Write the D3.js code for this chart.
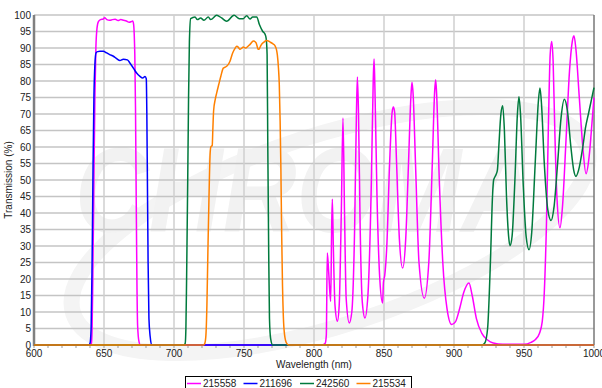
<!DOCTYPE html>
<html>
<head>
<meta charset="utf-8">
<script src="https://cdn.jsdelivr.net/npm/d3@7"></script>
<style>
  body { margin: 0; background: #fff; }
  svg { display: block; font-family: "Liberation Sans", Arial, sans-serif; }
</style>
</head>
<body>
<div id="chart"></div>
<script>
// Series data: [wavelength nm, transmission %]
const s215558 = [
  [600,0],[640,0],[641,0.5],[641.5,5],[642,20],[642.8,50],[643.5,75],[644.2,90],[645,96],[646,98],
  [647.6,98.6],[649.5,98.8],[650.5,99.2],[652,98.6],[654,98.4],[656,98.6],[658,98.7],[660,98.3],
  [662,98.6],[664,98.4],[666,98.2],[668,97.8],[669.5,98],[670.5,98.2],[671.2,97],[671.6,94],
  [672,88],[672.5,72],[673,45],[673.5,20],[674,6],[675,1],[676,0],
  [806,0],[808,0.5],[808.8,3],[809.5,27.9],[810.5,22],[811.9,13.2],[812.6,35],[813.1,44.2],[813.8,30],
  [815,12],[816.7,7.2],[818,12],[819.5,40],[820.7,68.8],[821.8,40],[823,14],[825.2,6.7],[827,10],
  [829,35],[830.3,70],[831,81.2],[831.8,70],[833,35],[834.5,13],[836.4,8.2],[838.5,15],[841,50],
  [842.3,80],[842.9,86.7],[843.5,78],[845,45],[847,20],[849,12.7],[849.6,19],[850.5,21],[852,30],
  [854,55],[855.8,70.5],[856.7,72.1],[857.6,70.5],[859,55],[861,32],[863.3,23.3],[865.5,32],
  [867.5,55],[869.3,76],[870,79.6],[870.8,76],[872.5,55],[875,25],[878.8,14.2],[882,25],[884.5,55],
  [886.2,77],[886.9,80.4],[887.6,76],[889.5,50],[892,25],[895,11],[898.3,6.2],[901,7],[904,11],
  [907,16],[910.7,18.8],[913,15],[916,8],[919.8,3.6],[924,1.5],[928,0.6],[935,0.2],[950,0.2],
  [955,0.8],[958,1.6],[961,3.5],[963,7],[964.5,16],[966,36],[967.5,68],[968.7,88],[969.8,92],
  [970.8,86],[972,65],[973.5,45],[975.7,35.5],[977.5,42],[980,62],[982.5,83],[984.5,92],[985.7,93.7],
  [987,90],[989.5,75],[992,60],[994.3,51.9],[996.5,57],[998.5,67],[1000,75]
];
const s211696 = [
  [600,0],[639,0],[640,0.5],[640.8,5],[641.5,25],[642.2,55],[642.8,75],[643.5,85],[644.3,88.5],
  [645.5,88.9],[647.1,89],[649.5,89],[651.9,88.5],[654,88],[656.7,87.5],[659,86.8],[661.4,86.2],
  [663.8,86.6],[666.7,86.4],[668.6,85.4],[671,83.9],[673.3,82.4],[675.7,81.4],[677.6,80.9],
  [679.3,81.4],[680.2,80.7],[680.6,70],[681,50],[681.5,25],[682.1,8],[683,2.5],[684,0],[1000,0]
];
const s242560 = [
  [600,0],[707,0],[708,0.5],[708.5,5],[709,20],[709.8,50],[710.4,75],[711,92],[711.9,98.9],
  [715,99.4],[716.7,98.6],[719,99.1],[721.4,98.4],[724.5,99.4],[726.2,98.6],[730.5,99.9],[734,99.1],
  [737.6,98.1],[742.9,99.9],[746.7,98.9],[749.5,98.9],[751.9,99.8],[754.3,98.8],[756.2,99.4],
  [759.1,99.4],[761,97.1],[763.4,95],[765,94.2],[765.8,93],[766.5,88],[767,60],[767.6,30],
  [768.2,8],[769,2],[770.5,0],
  [920,0],[922,0.6],[924,5],[926,25],[927.5,45],[928.3,50],[930,51.6],[931,53],[932,60],[933.5,70],
  [934.8,72.5],[936,65],[937.5,45],[939,33],[940,30.1],[941.5,33],[943.5,50],[945.3,70],[946.4,75.2],
  [947.5,70],[949.5,48],[951.5,33],[953.6,28.9],[955.5,34],[958,55],[960.3,74],[961.4,77.9],
  [962.5,73],[964.5,55],[967,41],[969.3,37.7],[971.5,42],[974,55],[976.5,69],[978.8,74.5],
  [981,71],[983.5,60],[985.5,53],[987.1,51.1],[989,53],[992,60],[994,66],[996,70],[998,74],[1000,78]
];
const s215534 = [
  [600,0],[721,0],[722,0.5],[722.8,3],[723.5,12],[724.2,28],[725,45],[725.8,58],[726.3,60],
  [727.3,60.5],[727.8,66],[728.3,71],[729.5,74.5],[730.5,76.4],[732,79],[733.5,81.5],[735.2,83.9],
  [736.5,84.2],[738,84.6],[740,86],[741.9,88.5],[743.5,89.8],[744.8,90.5],[746,90.2],[747.1,89.6],
  [748.5,90],[749.5,90.3],[751,90],[752,90.2],[754.3,91.1],[756.7,92.1],[758.6,91.6],[760.2,89.6],
  [761,89.8],[762.1,90.8],[764.3,91.8],[766.2,92.3],[768.6,91.8],[770.5,91.3],[772.1,90.7],
  [773.2,89.5],[773.8,88],[774.6,84],[775.2,79],[775.8,68],[776.3,55],[776.9,34],[777.5,18],
  [778.1,8.7],[779,3],[780.5,0.5],[782,0],[1000,0]
];

const seriesNames = ["215558", "211696", "242560", "215534"];
const seriesData = [s215558, s211696, s242560, s215534];
const seriesColors = ["#ff00ff", "#0000ff", "#007a3d", "#ff8000"];

const xTicks = d3.range(600, 1001, 50);
const yTicks = d3.range(0, 101, 5);

const width = 602, height = 388;
const svg = d3.select("#chart").append("svg")
  .attr("width", width)
  .attr("height", height);

const x = d3.scaleLinear().domain([600, 1000]).range([34, 594]);
const y = d3.scaleLinear().domain([0, 100]).range([345, 15]);

// faint watermark behind the plot
const wm = svg.append("g");
wm.append("ellipse")
  .attr("cx", 330).attr("cy", 230).attr("rx", 270).attr("ry", 95)
  .attr("transform", "rotate(-18 330 230)")
  .attr("fill", "none").attr("stroke", "#f4f4f4").attr("stroke-width", 16);
wm.append("text")
  .attr("x", 75).attr("y", 232)
  .attr("font-size", 120).attr("font-weight", "bold").attr("font-style", "italic")
  .attr("textLength", 460).attr("lengthAdjust", "spacingAndGlyphs")
  .attr("fill", "#f2f2f2")
  .text("CHROMA");

// grid
svg.append("g")
  .selectAll("line")
  .data(yTicks.filter(d => d > 0))
  .join("line")
  .attr("x1", x(600)).attr("x2", x(1000))
  .attr("y1", d => y(d)).attr("y2", d => y(d))
  .attr("stroke", "#c4c4c4").attr("stroke-width", 1.3);

svg.append("g")
  .selectAll("line")
  .data(xTicks.filter(d => d > 600 && d < 1000))
  .join("line")
  .attr("x1", d => x(d)).attr("x2", d => x(d))
  .attr("y1", y(0)).attr("y2", y(100))
  .attr("stroke", "#cfcfcf").attr("stroke-width", 1.5);

// minor ticks on the x axis
svg.append("g")
  .selectAll("line")
  .data(d3.range(600, 1001, 10))
  .join("line")
  .attr("x1", d => x(d)).attr("x2", d => x(d))
  .attr("y1", y(0)).attr("y2", y(0) + 3)
  .attr("stroke", "#999");

// frame
svg.append("line")
  .attr("x1", x(1000)).attr("x2", x(1000)).attr("y1", y(0)).attr("y2", y(100))
  .attr("stroke", "#777").attr("stroke-width", 1.5);
svg.append("line")
  .attr("x1", x(600)).attr("x2", x(600)).attr("y1", y(0) + 1).attr("y2", y(100))
  .attr("stroke", "#808080").attr("stroke-width", 2.5);
svg.append("line")
  .attr("x1", x(600)).attr("x2", x(1000)).attr("y1", y(0)).attr("y2", y(0))
  .attr("stroke", "#777").attr("stroke-width", 1.5);

// tick labels
svg.append("g")
  .selectAll("text")
  .data(yTicks)
  .join("text")
  .attr("x", 31).attr("y", d => y(d))
  .attr("dy", "0.35em")
  .attr("text-anchor", "end")
  .attr("font-size", 10)
  .attr("fill", "#222")
  .text(d => d);

svg.append("g")
  .selectAll("text")
  .data(xTicks)
  .join("text")
  .attr("x", d => x(d)).attr("y", 357)
  .attr("text-anchor", "middle")
  .attr("font-size", 10)
  .attr("fill", "#222")
  .text(d => d);

// axis titles
svg.append("text")
  .attr("x", 314).attr("y", 368)
  .attr("text-anchor", "middle")
  .attr("font-size", 10)
  .attr("fill", "#222")
  .text("Wavelength (nm)");

svg.append("text")
  .attr("transform", `translate(12,${(y(0) + y(100)) / 2}) rotate(-90)`)
  .attr("text-anchor", "middle")
  .attr("font-size", 10)
  .attr("fill", "#222")
  .text("Transmission (%)");

// curves
const line = d3.line()
  .x(d => x(d[0]))
  .y(d => y(d[1]))
  .curve(d3.curveMonotoneX);

svg.append("g")
  .selectAll("path")
  .data(seriesData)
  .join("path")
  .attr("d", line)
  .attr("fill", "none")
  .attr("stroke", (d, i) => seriesColors[i])
  .attr("stroke-width", 1.5)
  .attr("stroke-linejoin", "round");

// legend
const legend = svg.append("g");
legend.append("rect")
  .attr("x", 185.5).attr("y", 376.5)
  .attr("width", 226).attr("height", 16)
  .attr("fill", "#fff").attr("stroke", "#000");

const item = legend.selectAll("g")
  .data(seriesNames)
  .join("g")
  .attr("transform", (d, i) => `translate(${187 + i * 56.5},0)`);
item.append("line")
  .attr("x1", 0).attr("x2", 14)
  .attr("y1", 383.5).attr("y2", 383.5)
  .attr("stroke", (d, i) => seriesColors[i])
  .attr("stroke-width", 1.5);
item.append("text")
  .attr("x", 16).attr("y", 383.5)
  .attr("dy", "0.35em")
  .attr("font-size", 10)
  .attr("fill", "#222")
  .text(d => d);
</script>
</body>
</html>
